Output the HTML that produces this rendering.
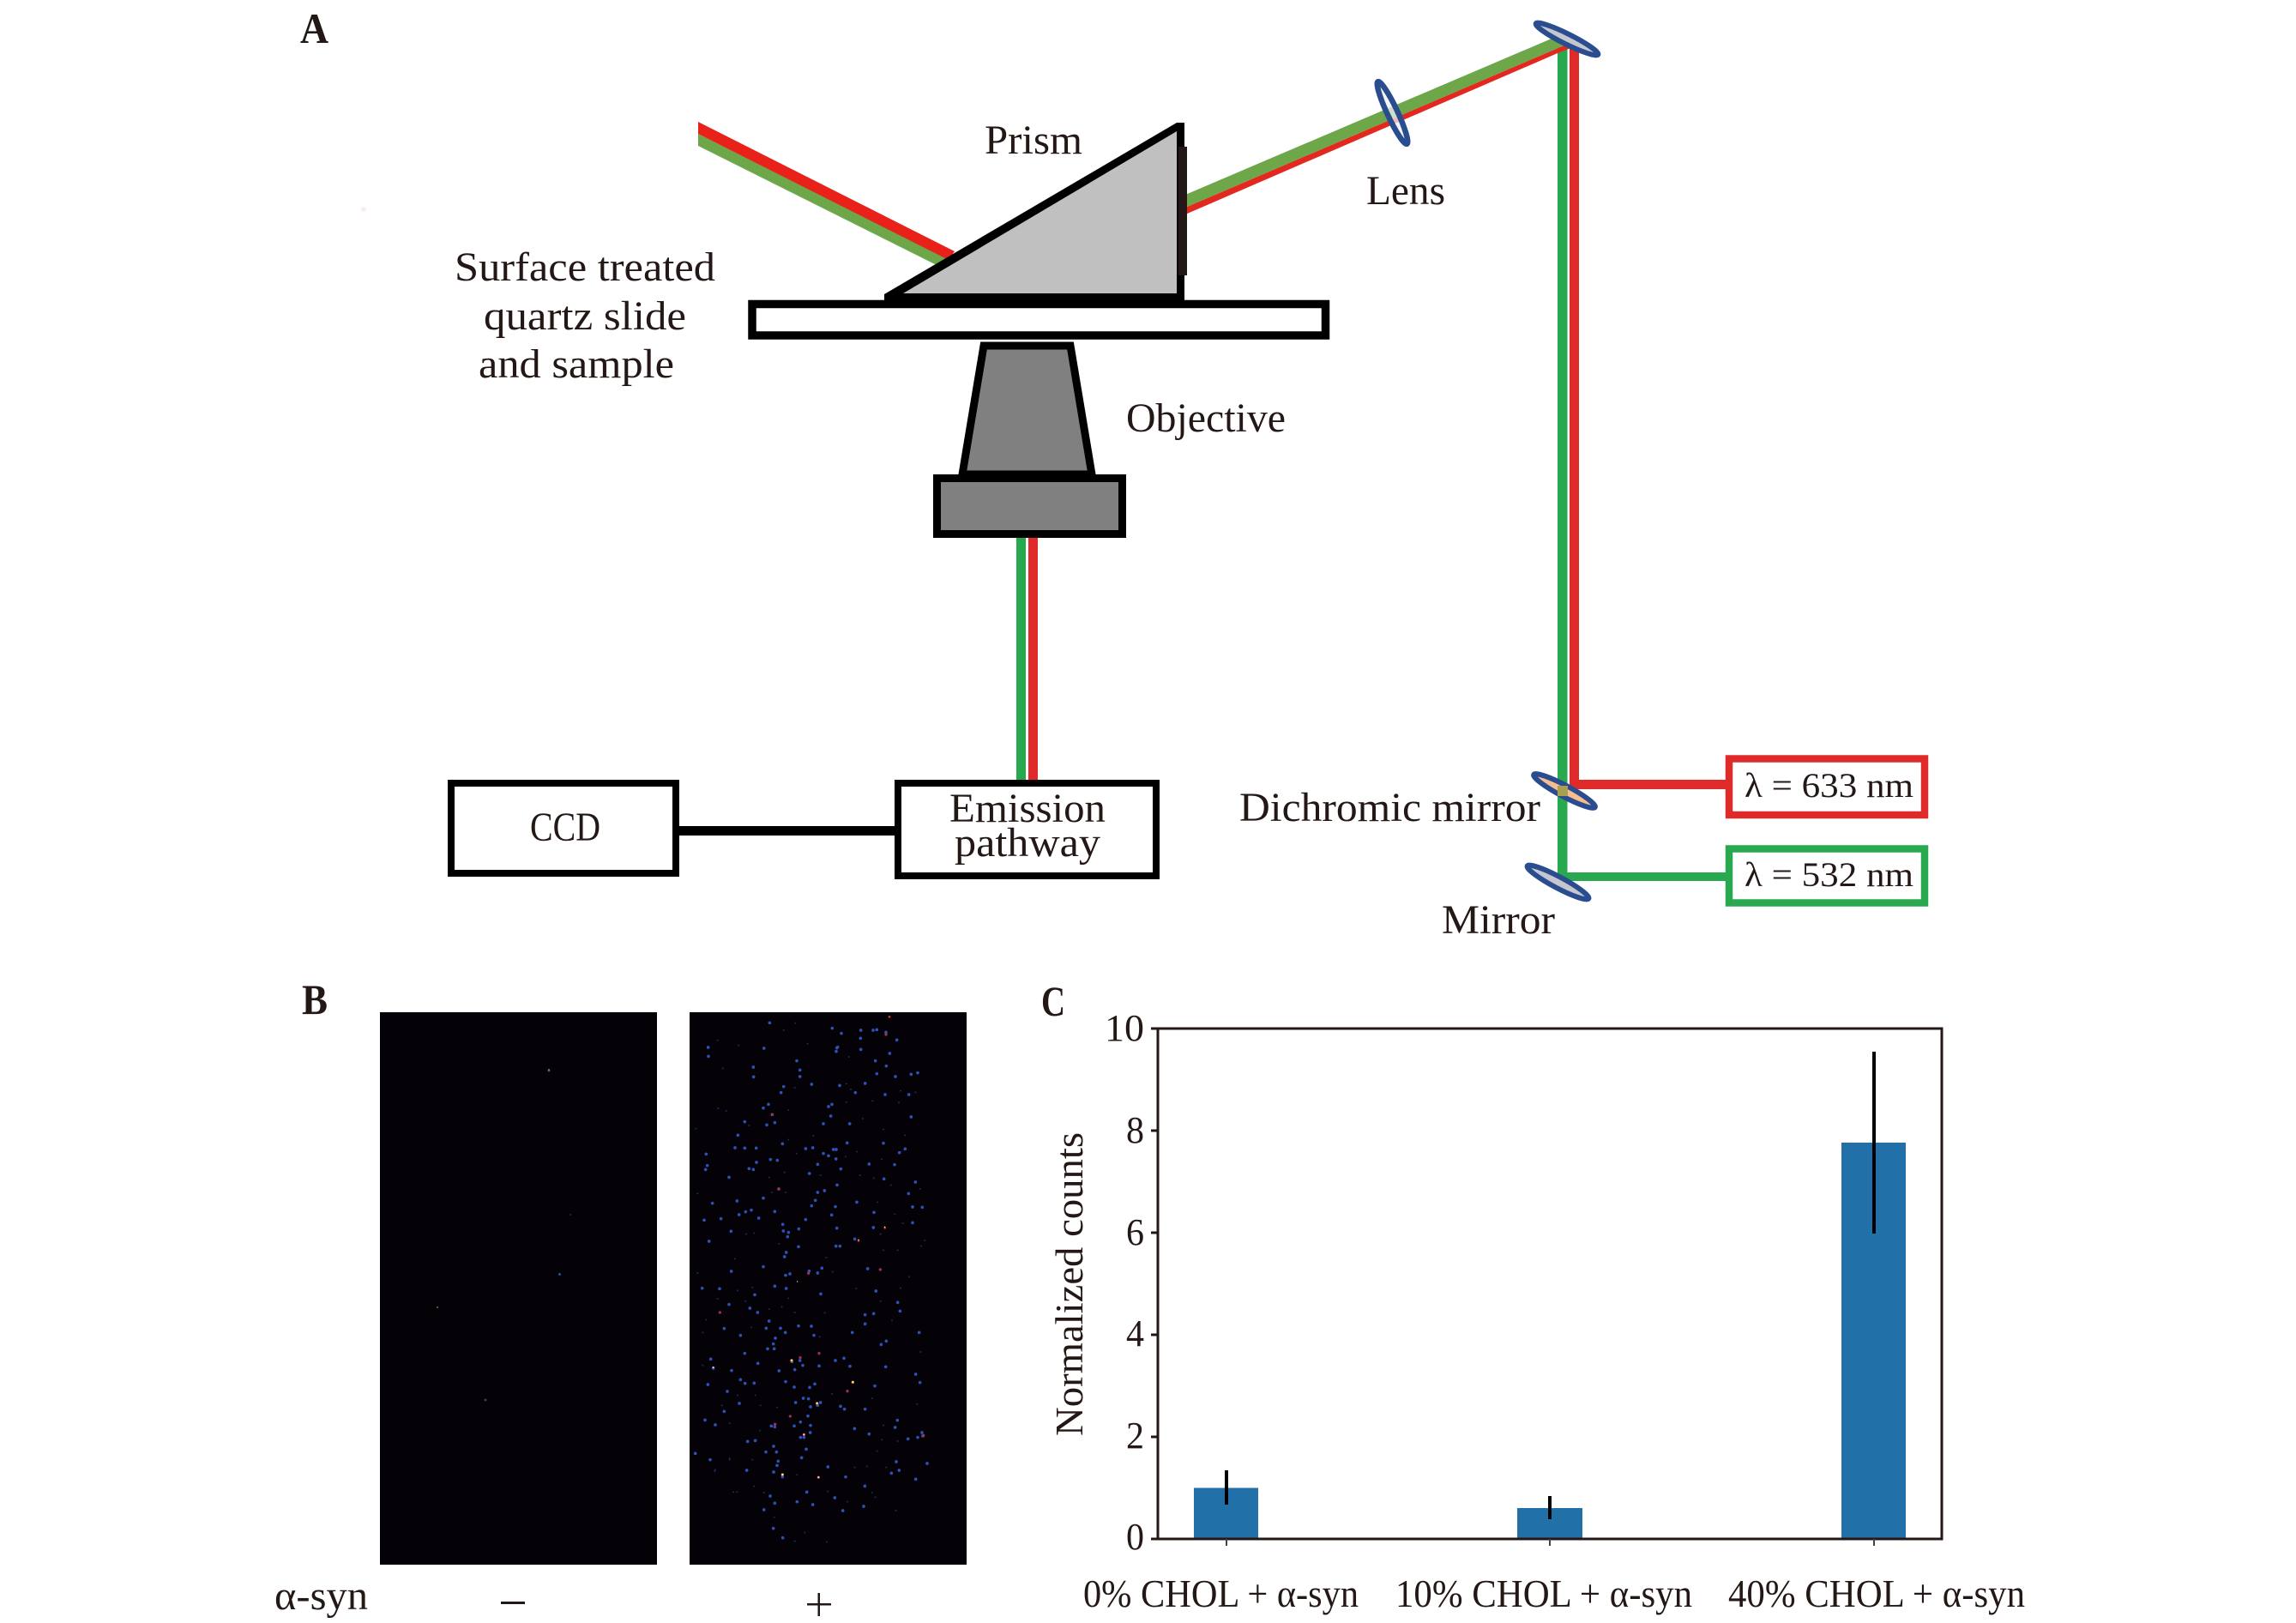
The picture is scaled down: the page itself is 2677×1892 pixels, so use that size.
<!DOCTYPE html>
<html lang="en">
<head>
<meta charset="utf-8">
<title>Optical setup and counts diagram</title>
<style>
html,body{margin:0;padding:0;background:#fff}
svg{display:block}
text{font-family:"Liberation Serif","DejaVu Serif",serif;fill:#231815}
.b{font-weight:bold}
</style>
</head>
<body>
<svg xmlns="http://www.w3.org/2000/svg" width="2677" height="1892" viewBox="0 0 2677 1892">
<rect width="2677" height="1892" fill="#fff"/>
<circle cx="424" cy="244" r="3" fill="#fbeeee"/>

<!-- Panel labels -->
<text class="b" x="350" y="50" font-size="50" textLength="33" lengthAdjust="spacingAndGlyphs">A</text>
<text class="b" x="352" y="1182" font-size="50" textLength="30" lengthAdjust="spacingAndGlyphs">B</text>
<text class="b" x="1214" y="1184" font-size="50" textLength="28" lengthAdjust="spacingAndGlyphs">C</text>

<!-- Beams left -->
<polygon points="814,156 1104,301 1096,311 814,170" fill="#6ea74a"/>
<polygon points="814,142 1113,293 1106,303 814,156" fill="#e8211a"/>

<!-- Vertical beams right -->
<rect x="1816" y="55" width="11.500" height="972" fill="#28a84f"/>
<rect x="1830" y="55" width="11" height="865" fill="#df2a2a"/>
<rect x="1830" y="909" width="182" height="11" fill="#df2a2a"/>
<rect x="1816" y="1017" width="196" height="10" fill="#28a84f"/>

<!-- Beam prism to mirror -->
<polygon points="1375,230 1816,42 1830,42 1826,52 1375,245" fill="#6ea74a"/>
<polygon points="1375,245 1826,52 1834,55 1816,62 1375,253" fill="#e3281f"/>

<!-- Prism -->
<polygon points="1381,143 1372,143 1031,343 1031,350 1381,350" fill="#000"/>
<polygon points="1372,153 1053,342 1372,342" fill="#c0c0c0"/>
<rect x="1374" y="171" width="10" height="150" fill="#231815"/>

<!-- Slide -->
<rect x="877" y="354.500" width="668.500" height="36.500" fill="#fff" stroke="#000" stroke-width="9.500"/>

<!-- Objective -->
<polygon points="1147,403 1248,403 1273,553 1122,553" fill="#808080" stroke="#000" stroke-width="9"/>
<rect x="1092.500" y="557.500" width="216" height="65" fill="#808080" stroke="#000" stroke-width="9"/>

<!-- Emission beams -->
<rect x="1185" y="627" width="11" height="282" fill="#28a84f"/>
<rect x="1199" y="627" width="11" height="282" fill="#df2a2a"/>

<!-- Boxes -->
<rect x="792" y="963" width="251" height="11" fill="#000"/>
<rect x="526" y="913" width="262" height="105" fill="#fff" stroke="#000" stroke-width="8"/>
<rect x="1047" y="913" width="301" height="108" fill="#fff" stroke="#000" stroke-width="8"/>
<text x="618" y="980" font-size="48" textLength="82" lengthAdjust="spacingAndGlyphs">CCD</text>
<text x="1107" y="958" font-size="48" textLength="182" lengthAdjust="spacingAndGlyphs">Emission</text>
<text x="1113" y="998" font-size="48" textLength="170" lengthAdjust="spacingAndGlyphs">pathway</text>

<!-- Laser boxes -->
<rect x="2016" y="884.500" width="228" height="65.500" fill="#fff" stroke="#df2a2a" stroke-width="8.500"/>
<rect x="2016" y="989.500" width="228" height="63" fill="#fff" stroke="#28a84f" stroke-width="8.500"/>
<text x="2034" y="929" font-size="40" textLength="197" lengthAdjust="spacingAndGlyphs">λ = 633 nm</text>
<text x="2034" y="1033" font-size="40" textLength="197" lengthAdjust="spacingAndGlyphs">λ = 532 nm</text>

<!-- Optics -->
<ellipse cx="1623.500" cy="131.500" rx="6" ry="40" transform="rotate(-25 1623.500 131.500)" fill="#eef0f6" fill-opacity="0.75" stroke="#2a4d8f" stroke-width="6.500"/>
<ellipse cx="1827" cy="45.500" rx="40.500" ry="6" transform="rotate(26.500 1827 45.500)" fill="#c4c7cf" stroke="#2a4d8f" stroke-width="6"/>
<ellipse cx="1824" cy="922" rx="40.500" ry="6.500" transform="rotate(28 1824 922)" fill="#f5bd90" stroke="#2a4d8f" stroke-width="6"/>
<rect x="1816" y="916" width="12" height="12" fill="#a8a050"/>
<ellipse cx="1816.500" cy="1028.500" rx="40.500" ry="6.500" transform="rotate(28 1816.500 1028.500)" fill="#c4c7cf" stroke="#2a4d8f" stroke-width="6"/>

<!-- Labels A -->
<text x="1148" y="179" font-size="48" textLength="114" lengthAdjust="spacingAndGlyphs">Prism</text>
<text x="1593" y="238" font-size="48" textLength="92" lengthAdjust="spacingAndGlyphs">Lens</text>
<text x="530" y="327" font-size="48" textLength="304" lengthAdjust="spacingAndGlyphs">Surface treated</text>
<text x="564" y="384" font-size="48" textLength="236" lengthAdjust="spacingAndGlyphs">quartz slide</text>
<text x="558" y="440" font-size="48" textLength="228" lengthAdjust="spacingAndGlyphs">and sample</text>
<text x="1313" y="503" font-size="48" textLength="186" lengthAdjust="spacingAndGlyphs">Objective</text>
<text x="1445" y="957" font-size="48" textLength="351" lengthAdjust="spacingAndGlyphs">Dichromic mirror</text>
<text x="1681" y="1088" font-size="48" textLength="132" lengthAdjust="spacingAndGlyphs">Mirror</text>

<!-- Panel B images -->
<rect x="443" y="1180" width="323" height="644" fill="#040206"/>
<rect x="804" y="1180" width="323" height="644" fill="#040206"/>
<g fill="none" stroke-linecap="round">
<path stroke="#5a3a70" stroke-width="3" d="M640 1248h0"/>
<path stroke="#f0b0a0" stroke-width="1.500" d="M640 1247h0M510 1524h0"/>
<path stroke="#2a4ca8" stroke-width="3" d="M652.500 1485.500h0"/>
<path stroke="#32407a" stroke-width="3" d="M566 1632h0"/>
<path stroke="#1c2a60" stroke-width="2" d="M665 1416h0"/>
</g>
<g fill="none" stroke-linecap="round" transform="translate(780 1170) scale(0.33333)">
<path stroke="#1d2b66" stroke-width="6" d="M170 128h0M243 146h0M442 68h0M401 93h0M485 140h0M188 226h0M629 186h0M440 294h0M620 280h0M636 300h0M810 305h0M862 310h0M200 375h0M172 366h0M418 372h0M712 340h0M620 344h0M804 346h0M94 437h0M280 426h0M678 402h0M750 440h0M826 460h0M418 476h0M505 462h0M446 524h0M658 518h0M618 535h0M744 544h0M350 608h0M404 590h0M530 600h0M668 600h0M716 610h0M776 634h0M878 648h0M100 664h0M730 694h0M360 660h0M408 660h0M790 736h0M818 768h0M270 806h0M298 802h0M385 840h0M740 806h0M895 828h0M882 848h0M750 862h0M800 862h0M230 892h0M550 888h0M100 942h0M572 938h0M810 995h0M840 955h0M240 1003h0M292 992h0M170 1032h0M418 1030h0M655 996h0M268 1040h0M350 1068h0M395 1060h0M440 1080h0M545 1082h0M740 1040h0M130 1106h0M780 1108h0M288 1132h0M118 1150h0M527 1165h0"/>
<path stroke="#2e50b8" stroke-width="11" d="M137 153h0M138 184h0M352 67h0M571 86h0M603 104h0M671 93h0M714 93h0M727 91h0M759 100h0M797 127h0M670 121h0M587 155h0M590 152h0M585 167h0M671 160h0M332 156h0M295 222h0M296 256h0M447 200h0M458 232h0M458 255h0M722 200h0M760 218h0M772 174h0M727 245h0M792 255h0M847 247h0M870 242h0M499 282h0M401 290h0M392 311h0M597 286h0M652 311h0M686 279h0M756 318h0M839 318h0M330 365h0M348 352h0M558 360h0M570 352h0M566 393h0M361 388h0M342 424h0M370 416h0M265 413h0M847 396h0M632 420h0M540 420h0M241 460h0M397 490h0M231 504h0M265 505h0M305 505h0M478 507h0M503 504h0M623 487h0M750 488h0M130 526h0M134 566h0M128 580h0M306 555h0M355 545h0M379 548h0M540 524h0M558 532h0M575 510h0M585 510h0M584 543h0M520 562h0M601 578h0M700 561h0M789 563h0M806 521h0M826 508h0M280 577h0M295 580h0M210 607h0M491 594h0M752 613h0M862 624h0M588 634h0M384 648h0M544 654h0M520 660h0M838 664h0M330 680h0M152 698h0M238 690h0M512 688h0M657 694h0M499 707h0M582 710h0M852 711h0M886 712h0M268 728h0M288 722h0M370 727h0M717 730h0M245 738h0M123 757h0M182 752h0M314 750h0M478 755h0M569 739h0M398 772h0M400 795h0M418 800h0M415 815h0M454 788h0M587 785h0M715 783h0M852 766h0M140 831h0M217 796h0M650 823h0M584 848h0M598 848h0M453 850h0M410 870h0M404 885h0M330 920h0M695 927h0M535 925h0M490 935h0M520 942h0M408 950h0M423 945h0M218 936h0M370 988h0M410 996h0M116 995h0M177 997h0M300 1018h0M531 1015h0M724 1005h0M800 1045h0M808 1075h0M210 1052h0M310 1080h0M283 1065h0M686 1088h0M716 1084h0M686 1120h0M193 1136h0M340 1135h0M350 1110h0M390 1135h0M407 1150h0M453 1127h0M498 1128h0M641 1150h0M875 1150h0M760 1180h0M742 1192h0M250 1160h0M372 1170h0M365 1190h0M507 1160h0"/>
<path stroke="#a0305a" stroke-width="10" d="M759 108h0M739 930h0M488 943h0M178 1080h0M361 388h0M384 648h0"/>
<path stroke="#d83a30" stroke-width="8" d="M771 46h0M663 829h0M755 784h0"/>
<path stroke="#fff3c0" stroke-width="4" d="M663 826h0M755 781h0M449 972h0"/>
</g>
<g fill="none" stroke-linecap="round" transform="translate(780 1500) scale(0.33333)">
<path stroke="#1d2b66" stroke-width="6" d="M118 275h0M240 380h0M185 415h0M212 478h0M320 415h0M378 422h0M302 380h0M570 375h0M710 390h0M868 410h0M880 228h0M750 485h0M800 540h0M745 535h0M728 575h0M318 503h0M212 605h0M160 645h0M292 605h0M448 658h0M650 632h0M692 628h0M760 632h0M298 698h0M225 718h0M238 718h0M332 720h0M556 716h0M710 720h0M722 736h0M624 752h0M794 783h0M368 806h0M475 860h0M552 892h0M440 890h0M212 600h0M162 640h0"/>
<path stroke="#2e50b8" stroke-width="11" d="M146 253h0M155 285h0M311 268h0M219 293h0M250 325h0M266 338h0M298 337h0M136 342h0M204 366h0M368 217h0M345 217h0M265 233h0M385 294h0M408 332h0M438 351h0M510 340h0M492 352h0M582 258h0M612 250h0M633 278h0M525 277h0M468 275h0M440 290h0M458 258h0M430 262h0M758 280h0M863 306h0M878 335h0M720 347h0M443 405h0M470 390h0M488 392h0M495 420h0M530 405h0M520 415h0M600 418h0M614 428h0M686 428h0M246 408h0M193 436h0M126 466h0M162 483h0M358 487h0M370 490h0M438 487h0M460 473h0M486 452h0M495 485h0M494 510h0M460 527h0M472 527h0M649 496h0M700 515h0M799 467h0M791 492h0M836 532h0M870 527h0M885 510h0M888 522h0M302 538h0M275 541h0M366 558h0M339 578h0M376 578h0M480 568h0M464 598h0M382 610h0M378 625h0M272 642h0M366 648h0M397 665h0M556 630h0M618 665h0M805 642h0M778 652h0M685 697h0M354 732h0M370 757h0M332 780h0M482 718h0M448 752h0M503 762h0M580 738h0M608 783h0M681 768h0M365 845h0M398 878h0M144 605h0M92 583h0M903 618h0M863 673h0M795 612h0"/>
<path stroke="#a0305a" stroke-width="10" d="M459 248h0M624 365h0M424 453h0M371 481h0M525 233h0M890 520h0M472 517h0M523 667h0"/>
<path stroke="#e8851f" stroke-width="10" d="M429 258h0M643 334h0M518 408h0M397 657h0"/>
<path stroke="#fff3c0" stroke-width="6" d="M429 257h0M643 333h0M518 407h0M397 657h0M523 666h0M155 282h0M472 517h0"/>
</g>

<!-- Panel B labels -->
<text x="320" y="1876" font-size="48" textLength="109" lengthAdjust="spacingAndGlyphs">α-syn</text>
<rect x="584" y="1867" width="28" height="3" fill="#231815"/>
<rect x="941" y="1869" width="28" height="2.500" fill="#231815"/>
<rect x="953.500" y="1857" width="2.500" height="27" fill="#231815"/>

<!-- Panel C chart -->
<rect x="1392" y="1734.500" width="75" height="59.500" fill="#2170a8"/>
<rect x="1769" y="1758" width="76" height="36" fill="#2170a8"/>
<rect x="2147" y="1332" width="75" height="462" fill="#2170a8"/>
<rect x="1350" y="1199" width="914" height="595" fill="none" stroke="#231815" stroke-width="3"/>
<g stroke="#231815" stroke-width="3">
<line x1="1342" x2="1350" y1="1199" y2="1199"/>
<line x1="1342" x2="1350" y1="1318" y2="1318"/>
<line x1="1342" x2="1350" y1="1437" y2="1437"/>
<line x1="1342" x2="1350" y1="1556" y2="1556"/>
<line x1="1342" x2="1350" y1="1675" y2="1675"/>
<line x1="1342" x2="1350" y1="1794" y2="1794"/>
</g>
<g stroke="#444" stroke-width="2">
<line x1="1430" x2="1430" y1="1794" y2="1802"/>
<line x1="1807" x2="1807" y1="1794" y2="1802"/>
<line x1="2185" x2="2185" y1="1794" y2="1802"/>
</g>
<g stroke="#000" stroke-width="4">
<line x1="1430" x2="1430" y1="1714" y2="1754"/>
<line x1="1807" x2="1807" y1="1744" y2="1771"/>
<line x1="2185" x2="2185" y1="1226" y2="1438"/>
</g>
<g font-size="44">
<text x="1288" y="1213" textLength="46" lengthAdjust="spacingAndGlyphs">10</text>
<text x="1313" y="1332" textLength="21" lengthAdjust="spacingAndGlyphs">8</text>
<text x="1313" y="1451" textLength="21" lengthAdjust="spacingAndGlyphs">6</text>
<text x="1313" y="1569" textLength="21" lengthAdjust="spacingAndGlyphs">4</text>
<text x="1313" y="1688" textLength="21" lengthAdjust="spacingAndGlyphs">2</text>
<text x="1313" y="1806" textLength="21" lengthAdjust="spacingAndGlyphs">0</text>
</g>
<text transform="translate(1262 1674) rotate(-90)" font-size="46" textLength="354" lengthAdjust="spacingAndGlyphs">Normalized counts</text>
<g font-size="46">
<text x="1263" y="1873" textLength="321" lengthAdjust="spacingAndGlyphs">0% CHOL + α-syn</text>
<text x="1627" y="1873" textLength="346" lengthAdjust="spacingAndGlyphs">10% CHOL + α-syn</text>
<text x="2015" y="1873" textLength="346" lengthAdjust="spacingAndGlyphs">40% CHOL + α-syn</text>
</g>
</svg>
</body>
</html>
